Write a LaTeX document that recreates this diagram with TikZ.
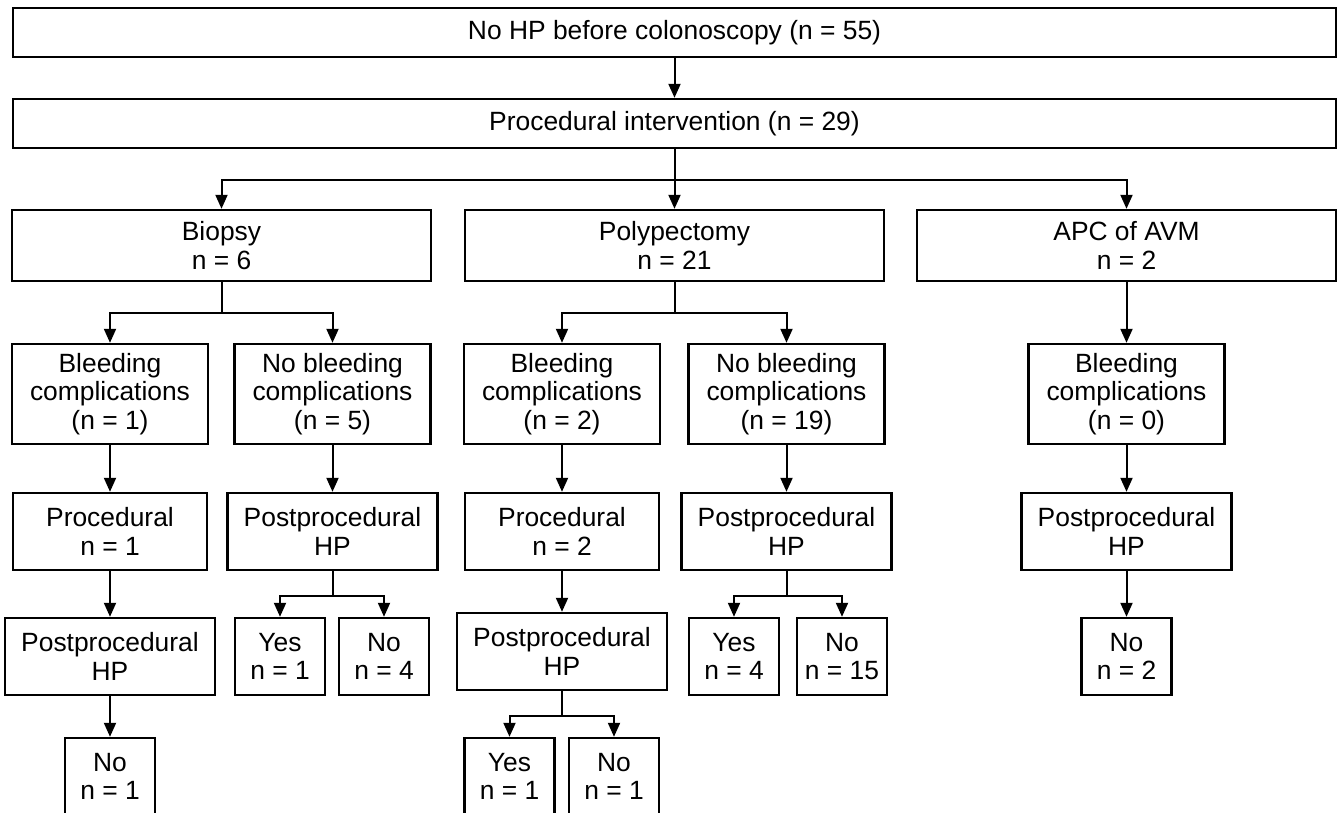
\documentclass[tikz,border=0pt]{standalone}
\usepackage{fontspec}
\setmainfont{Liberation Sans}
\usetikzlibrary{arrows.meta}

\begin{document}
\begin{tikzpicture}[
              x=0.5pt, y=-0.5pt,
              every node/.style={draw, line width=1.2pt, align=center, inner sep=0pt,
                font=\fontsize{13.2}{14.2}\selectfont},
              bar/.style={minimum width=661.5pt, minimum height=24.5pt},
              group/.style={minimum width=209.5pt, minimum height=35.5pt},
              bleed/.style={minimum width=98pt, minimum height=50pt},
              proc/.style={minimum width=97pt, minimum height=38.5pt},
              post/.style={minimum width=105pt, minimum height=38.5pt},
              leaf/.style={minimum width=45pt, minimum height=38.5pt},
              link/.style={line width=1pt, -{Triangle[length=7pt, width=6pt]}}
            ]
              \useasboundingbox (0,0) rectangle (1339,813);

              \node[bar] (start) at (674.5,32.5) {No HP before colonoscopy (n = 55)};
              \node[bar] (interv) at (674.5,123.5) {Procedural intervention (n = 29)};

              \node[group] (biopsy) at (221.5,245.5) {Biopsy\\n = 6};
              \node[group] (polyp) at (674.5,245.5) {Polypectomy\\n = 21};
              \node[group] (apc) at (1126.5,245.5) {APC of AVM\\n = 2};

              \node[bleed] (bleedB) at (110,394) {Bleeding\\complications\\(n = 1)};
              \node[bleed] (nobleedB) at (332.5,394) {No bleeding\\complications\\(n = 5)};
              \node[bleed] (bleedP) at (562,394) {Bleeding\\complications\\(n = 2)};
              \node[bleed] (nobleedP) at (786.5,394) {No bleeding\\complications\\(n = 19)};
              \node[bleed] (bleedA) at (1126.5,394) {Bleeding\\complications\\(n = 0)};

              \node[proc] (procB) at (110,531.5) {Procedural\\n = 1};
              \node[post] (postNB) at (332.5,531.5) {Postprocedural\\HP};
              \node[proc] (procP) at (562,531.5) {Procedural\\n = 2};
              \node[post] (postNP) at (786.5,531.5) {Postprocedural\\HP};
              \node[post] (postA) at (1126.5,531.5) {Postprocedural\\HP};

              \node[post] (postB) at (110,656.5) {Postprocedural\\HP};
              \node[leaf] (yesNB) at (280,656.5) {Yes\\n = 1};
              \node[leaf] (noNB) at (384,656.5) {No\\n = 4};
              \node[post] (postP) at (562,651.5) {Postprocedural\\HP};
              \node[leaf] (yesNP) at (734,656.5) {Yes\\n = 4};
              \node[leaf] (noNP) at (842,656.5) {No\\n = 15};
              \node[leaf] (noA) at (1126.5,656.5) {No\\n = 2};

              \node[leaf] (noB) at (110,776.5) {No\\n = 1};
              \node[leaf] (yesP) at (509.5,776.5) {Yes\\n = 1};
              \node[leaf] (noP) at (614,776.5) {No\\n = 1};

              \draw[link] (start) -- (interv);
              \draw[link] (interv.south) -- ++(0,31) -| (biopsy);
              \draw[link] (interv) -- (polyp);
              \draw[link] (interv.south) -- ++(0,31) -| (apc);

              \draw[link] (biopsy.south) -- ++(0,31) -| (bleedB);
              \draw[link] (biopsy.south) -- ++(0,31) -| (nobleedB);
              \draw[link] (polyp.south) -- ++(0,31) -| (bleedP);
              \draw[link] (polyp.south) -- ++(0,31) -| (nobleedP);
              \draw[link] (apc) -- (bleedA);

              \draw[link] (bleedB) -- (procB);
              \draw[link] (nobleedB) -- (postNB);
              \draw[link] (bleedP) -- (procP);
              \draw[link] (nobleedP) -- (postNP);
              \draw[link] (bleedA) -- (postA);

              \draw[link] (procB) -- (postB);
              \draw[link] (postNB.south) -- ++(0,25) -| (yesNB);
              \draw[link] (postNB.south) -- ++(0,25) -| (noNB);
              \draw[link] (procP) -- (postP);
              \draw[link] (postNP.south) -- ++(0,25) -| (yesNP);
              \draw[link] (postNP.south) -- ++(0,25) -| (noNP);
              \draw[link] (postA) -- (noA);

              \draw[link] (postB) -- (noB);
              \draw[link] (postP.south) -- ++(0,25) -| (yesP);
              \draw[link] (postP.south) -- ++(0,25) -| (noP);
\end{tikzpicture}
\end{document}
